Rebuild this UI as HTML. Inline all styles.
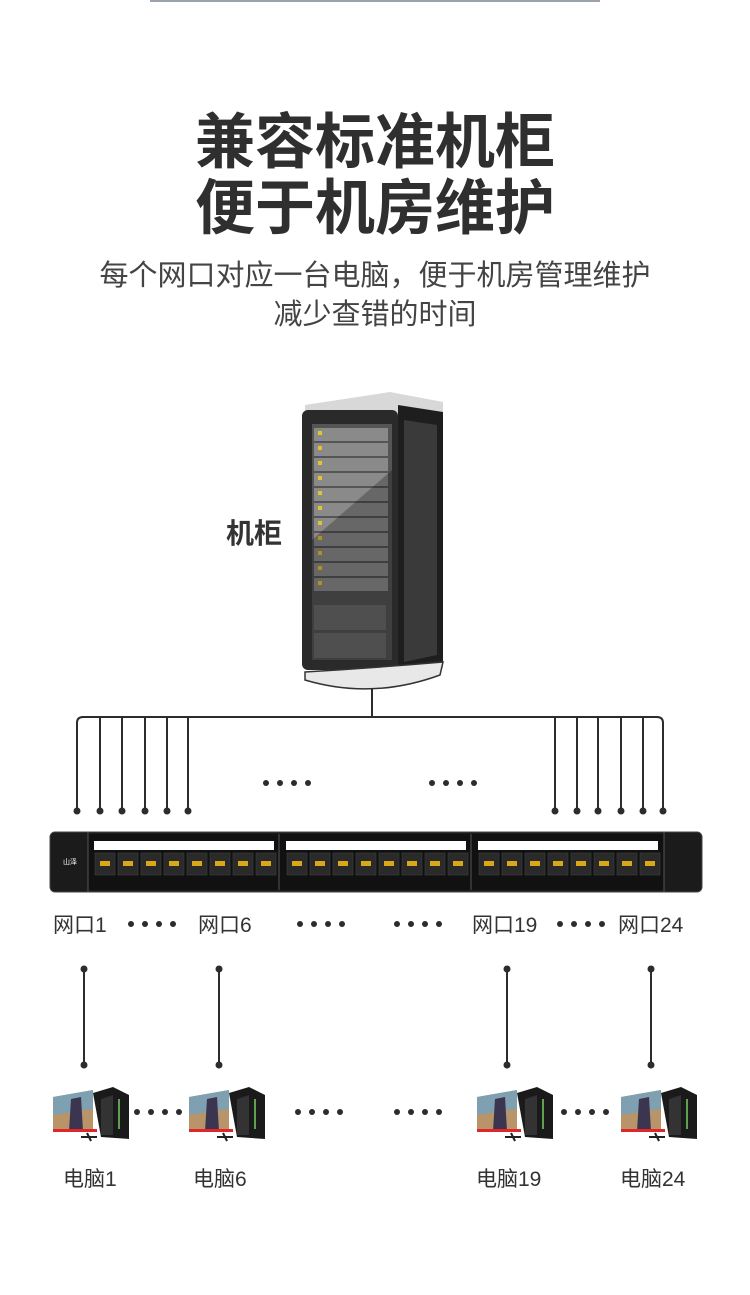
<!DOCTYPE html>
<html><head><meta charset="utf-8"><style>
body{margin:0;background:#fff;}
svg{display:block}
text{font-family:"Liberation Sans","Noto Sans CJK SC",sans-serif;}
</style></head><body>
<svg width="750" height="1295" viewBox="0 0 750 1295" xmlns="http://www.w3.org/2000/svg">
<rect x="150" y="0" width="450" height="2" fill="#9aa3ad"/>
<text x="375" y="163" text-anchor="middle" font-size="60" font-weight="700" fill="#2f2f2f">兼容标准机柜</text>
<text x="375" y="229" text-anchor="middle" font-size="60" font-weight="700" fill="#2f2f2f">便于机房维护</text>
<text x="375" y="285" text-anchor="middle" font-size="29" fill="#444">每个网口对应一台电脑，便于机房管理维护</text>
<text x="375" y="324" text-anchor="middle" font-size="29" fill="#444">减少查错的时间</text>
<text x="254" y="543" text-anchor="middle" font-size="28" font-weight="700" fill="#333">机柜</text>
<g>
<path d="M305 405 L390 392 L443 402 L443 668 L305 668 Z" fill="#d8d8d8"/>
<rect x="302" y="410" width="96" height="260" rx="6" fill="#2a2a2a"/>
<path d="M398 405 L443 412 L443 662 L398 670 Z" fill="#1e1e1e"/>
<path d="M404 420 L437 425 L437 655 L404 662 Z" fill="#3a3a3a"/>
<rect x="312" y="424" width="80" height="236" fill="#555"/>
<g fill="#8a8a8a">
<rect x="314" y="428" width="74" height="13"/><rect x="314" y="443" width="74" height="13"/><rect x="314" y="458" width="74" height="13"/><rect x="314" y="473" width="74" height="13"/><rect x="314" y="488" width="74" height="13"/><rect x="314" y="503" width="74" height="13"/><rect x="314" y="518" width="74" height="13"/><rect x="314" y="533" width="74" height="13"/><rect x="314" y="548" width="74" height="13"/><rect x="314" y="563" width="74" height="13"/><rect x="314" y="578" width="74" height="13"/>
</g>
<g fill="#e8c030">
<rect x="318" y="431" width="4" height="4"/><rect x="318" y="446" width="4" height="4"/><rect x="318" y="461" width="4" height="4"/><rect x="318" y="476" width="4" height="4"/><rect x="318" y="491" width="4" height="4"/><rect x="318" y="506" width="4" height="4"/><rect x="318" y="521" width="4" height="4"/><rect x="318" y="536" width="4" height="4"/><rect x="318" y="551" width="4" height="4"/><rect x="318" y="566" width="4" height="4"/><rect x="318" y="581" width="4" height="4"/>
</g>
<rect x="314" y="605" width="72" height="25" fill="#6a6a6a"/>
<rect x="314" y="633" width="72" height="25" fill="#6a6a6a"/>
<path d="M312 540 L392 470 L392 660 L312 660 Z" fill="#000" opacity="0.25"/>
<path d="M305 672 Q372 668 443 662 L440 675 Q372 700 305 680 Z" fill="#e8e8e8" stroke="#333" stroke-width="1.5"/>
</g>
<g stroke="#2c2c2c" stroke-width="2" fill="none">
<line x1="372" y1="688" x2="372" y2="717"/>
<path d="M77 810 L77 723 Q77 717 83 717 L657 717 Q663 717 663 723 L663 810"/>
<line x1="100" y1="717" x2="100" y2="810"/><line x1="122" y1="717" x2="122" y2="810"/><line x1="145" y1="717" x2="145" y2="810"/><line x1="167" y1="717" x2="167" y2="810"/><line x1="188" y1="717" x2="188" y2="810"/>
<line x1="555" y1="717" x2="555" y2="810"/><line x1="577" y1="717" x2="577" y2="810"/><line x1="598" y1="717" x2="598" y2="810"/><line x1="621" y1="717" x2="621" y2="810"/><line x1="643" y1="717" x2="643" y2="810"/>
</g>
<g fill="#2c2c2c">
<circle cx="77" cy="811" r="3.5"/><circle cx="100" cy="811" r="3.5"/><circle cx="122" cy="811" r="3.5"/><circle cx="145" cy="811" r="3.5"/><circle cx="167" cy="811" r="3.5"/><circle cx="188" cy="811" r="3.5"/>
<circle cx="555" cy="811" r="3.5"/><circle cx="577" cy="811" r="3.5"/><circle cx="598" cy="811" r="3.5"/><circle cx="621" cy="811" r="3.5"/><circle cx="643" cy="811" r="3.5"/><circle cx="663" cy="811" r="3.5"/>
<circle cx="266" cy="783" r="3"/><circle cx="280" cy="783" r="3"/><circle cx="294" cy="783" r="3"/><circle cx="308" cy="783" r="3"/>
<circle cx="432" cy="783" r="3"/><circle cx="446" cy="783" r="3"/><circle cx="460" cy="783" r="3"/><circle cx="474" cy="783" r="3"/>
</g>
<rect x="50" y="832" width="652" height="60" rx="5" fill="#1b1b1b" stroke="#444" stroke-width="1"/>
<rect x="88" y="834" width="576" height="56" fill="#111"/>
<line x1="88" y1="832" x2="88" y2="892" stroke="#555"/><line x1="664" y1="832" x2="664" y2="892" stroke="#555"/>
<line x1="279" y1="834" x2="279" y2="890" stroke="#555"/><line x1="471" y1="834" x2="471" y2="890" stroke="#555"/>
<rect x="94" y="841" width="180" height="9" fill="#fff"/><rect x="286" y="841" width="180" height="9" fill="#fff"/><rect x="478" y="841" width="180" height="9" fill="#fff"/>
<text x="70" y="864" text-anchor="middle" font-size="7" fill="#fff">山泽</text>
<g fill="#2a2a2a" stroke="#444" stroke-width="0.5">
<rect x="95" y="853" width="20" height="22"/><rect x="118" y="853" width="20" height="22"/><rect x="141" y="853" width="20" height="22"/><rect x="164" y="853" width="20" height="22"/><rect x="187" y="853" width="20" height="22"/><rect x="210" y="853" width="20" height="22"/><rect x="233" y="853" width="20" height="22"/><rect x="256" y="853" width="20" height="22"/>
<rect x="287" y="853" width="20" height="22"/><rect x="310" y="853" width="20" height="22"/><rect x="333" y="853" width="20" height="22"/><rect x="356" y="853" width="20" height="22"/><rect x="379" y="853" width="20" height="22"/><rect x="402" y="853" width="20" height="22"/><rect x="425" y="853" width="20" height="22"/><rect x="448" y="853" width="20" height="22"/>
<rect x="479" y="853" width="20" height="22"/><rect x="502" y="853" width="20" height="22"/><rect x="525" y="853" width="20" height="22"/><rect x="548" y="853" width="20" height="22"/><rect x="571" y="853" width="20" height="22"/><rect x="594" y="853" width="20" height="22"/><rect x="617" y="853" width="20" height="22"/><rect x="640" y="853" width="20" height="22"/>
</g>
<g fill="#d9a818">
<rect x="100" y="861" width="10" height="5"/><rect x="123" y="861" width="10" height="5"/><rect x="146" y="861" width="10" height="5"/><rect x="169" y="861" width="10" height="5"/><rect x="192" y="861" width="10" height="5"/><rect x="215" y="861" width="10" height="5"/><rect x="238" y="861" width="10" height="5"/><rect x="261" y="861" width="10" height="5"/>
<rect x="292" y="861" width="10" height="5"/><rect x="315" y="861" width="10" height="5"/><rect x="338" y="861" width="10" height="5"/><rect x="361" y="861" width="10" height="5"/><rect x="384" y="861" width="10" height="5"/><rect x="407" y="861" width="10" height="5"/><rect x="430" y="861" width="10" height="5"/><rect x="453" y="861" width="10" height="5"/>
<rect x="484" y="861" width="10" height="5"/><rect x="507" y="861" width="10" height="5"/><rect x="530" y="861" width="10" height="5"/><rect x="553" y="861" width="10" height="5"/><rect x="576" y="861" width="10" height="5"/><rect x="599" y="861" width="10" height="5"/><rect x="622" y="861" width="10" height="5"/><rect x="645" y="861" width="10" height="5"/>
</g>
<g font-size="21" fill="#333">
<text x="53" y="932">网口1</text><text x="198" y="932">网口6</text><text x="472" y="932">网口19</text><text x="618" y="932">网口24</text>
<text x="63" y="1186">电脑1</text><text x="193" y="1186">电脑6</text><text x="476" y="1186">电脑19</text><text x="620" y="1186">电脑24</text>
</g>
<g fill="#2c2c2c">
<circle cx="131" cy="924" r="3"/><circle cx="145" cy="924" r="3"/><circle cx="159" cy="924" r="3"/><circle cx="173" cy="924" r="3"/>
<circle cx="300" cy="924" r="3"/><circle cx="314" cy="924" r="3"/><circle cx="328" cy="924" r="3"/><circle cx="342" cy="924" r="3"/>
<circle cx="397" cy="924" r="3"/><circle cx="411" cy="924" r="3"/><circle cx="425" cy="924" r="3"/><circle cx="439" cy="924" r="3"/>
<circle cx="560" cy="924" r="3"/><circle cx="574" cy="924" r="3"/><circle cx="588" cy="924" r="3"/><circle cx="602" cy="924" r="3"/>
<circle cx="137" cy="1112" r="3"/><circle cx="151" cy="1112" r="3"/><circle cx="165" cy="1112" r="3"/><circle cx="179" cy="1112" r="3"/>
<circle cx="298" cy="1112" r="3"/><circle cx="312" cy="1112" r="3"/><circle cx="326" cy="1112" r="3"/><circle cx="340" cy="1112" r="3"/>
<circle cx="397" cy="1112" r="3"/><circle cx="411" cy="1112" r="3"/><circle cx="425" cy="1112" r="3"/><circle cx="439" cy="1112" r="3"/>
<circle cx="564" cy="1112" r="3"/><circle cx="578" cy="1112" r="3"/><circle cx="592" cy="1112" r="3"/><circle cx="606" cy="1112" r="3"/>
<circle cx="84" cy="969" r="3.5"/><circle cx="84" cy="1065" r="3.5"/><circle cx="219" cy="969" r="3.5"/><circle cx="219" cy="1065" r="3.5"/>
<circle cx="507" cy="969" r="3.5"/><circle cx="507" cy="1065" r="3.5"/><circle cx="651" cy="969" r="3.5"/><circle cx="651" cy="1065" r="3.5"/>
</g>
<g stroke="#2c2c2c" stroke-width="2">
<line x1="84" y1="969" x2="84" y2="1065"/><line x1="219" y1="969" x2="219" y2="1065"/><line x1="507" y1="969" x2="507" y2="1065"/><line x1="651" y1="969" x2="651" y2="1065"/>
</g>
<defs>
<g id="pc">
<path d="M0 10 L40 3 L40 42 L0 42 Z" fill="#b89468"/>
<path d="M0 10 L40 3 L40 22 L0 28 Z" fill="#7fa0b0"/>
<path d="M18 12 L28 10 L30 44 L16 44 Z" fill="#3c3550"/>
<rect x="0" y="42" width="44" height="3" fill="#e0262a"/>
<path d="M40 6 L60 0 L76 8 L76 52 L48 50 Z" fill="#1a1a1a"/>
<path d="M48 12 L60 8 L60 48 L48 48 Z" fill="#333"/>
<line x1="66" y1="12" x2="66" y2="42" stroke="#7c6" stroke-width="1.5"/>
<line x1="28" y1="50" x2="44" y2="50" stroke="#222" stroke-width="2"/>
<line x1="34" y1="46" x2="38" y2="54" stroke="#222" stroke-width="2"/>
</g>
</defs>
<use href="#pc" x="53" y="1087"/><use href="#pc" x="189" y="1087"/><use href="#pc" x="477" y="1087"/><use href="#pc" x="621" y="1087"/>
</svg>
</body></html>
